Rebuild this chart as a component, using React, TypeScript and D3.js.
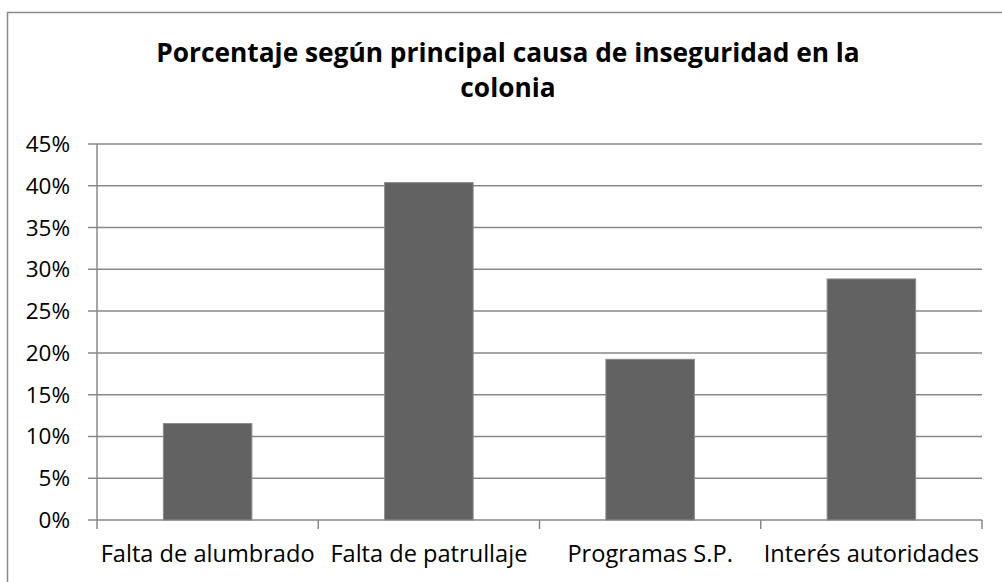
import React from "react";
import * as d3 from "d3";

const categories: string[] = [
  "Falta de alumbrado",
  "Falta de patrullaje",
  "Programas S.P.",
  "Interés autoridades",
];
const values: number[] = [0.1154, 0.4038, 0.1923, 0.2885];
const yTicks: number[] = [0, 0.05, 0.1, 0.15, 0.2, 0.25, 0.3, 0.35, 0.4, 0.45];
const titleLines: string[] = [
  "Porcentaje según principal causa de inseguridad en la",
  "colonia",
];

const W = 1002;
const H = 582;
const plot = { left: 97, right: 982, top: 144, bottom: 520 };
const FONT = "'Open Sans', Lato, sans-serif";
const GRID = "#888888";

export default function App() {
  const x = d3
    .scaleBand<string>()
    .domain(categories)
    .range([plot.left, plot.right])
    .paddingInner(0.6)
    .paddingOuter(0.3);
  const y = d3.scaleLinear().domain([0, 0.45]).range([plot.bottom, plot.top]);
  const fmt = d3.format(".0%");
  const step = x.step();
  const boundaries = d3.range(categories.length + 1).map((i) => plot.left + i * step);

  return (
    <svg
      width={W}
      height={H}
      style={{ position: "absolute", left: 0, top: 0, background: "#fff" }}
      fontFamily={FONT}
    >
      <rect x={0} y={0} width={W} height={H} fill="#fff" />
      <rect x={7.5} y={12.5} width={W + 20} height={H + 20} fill="none" stroke="#8a8a8a" strokeWidth={1.5} />
      {titleLines.map((t, i) => (
        <text
          key={i}
          x={508}
          y={62 + i * 34.5}
          textAnchor="middle"
          fontWeight="bold"
          fontSize={26.3}
          fill="#000"
        >
          {t}
        </text>
      ))}
      {yTicks.map((t) => (
        <g key={t}>
          <line x1={88} x2={plot.right} y1={y(t)} y2={y(t)} stroke={GRID} strokeWidth={1.5} />
          <text x={70} y={y(t) + 8} textAnchor="end" fontSize={22.5} fill="#000">
            {fmt(t)}
          </text>
        </g>
      ))}
      <line x1={plot.left} x2={plot.left} y1={plot.top} y2={plot.bottom} stroke={GRID} strokeWidth={1.5} />
      {boundaries.map((bx, i) => (
        <line key={i} x1={bx} x2={bx} y1={plot.bottom} y2={plot.bottom + 9} stroke={GRID} strokeWidth={1.5} />
      ))}
      {categories.map((c, i) => (
        <rect
          key={c}
          x={x(c)}
          y={y(values[i])}
          width={x.bandwidth()}
          height={y(0) - y(values[i])}
          fill="#626262"
          stroke="#8a8a8a"
          strokeWidth={1}
        />
      ))}
      {categories.map((c) => (
        <text
          key={c}
          x={(x(c) as number) + x.bandwidth() / 2}
          y={562}
          textAnchor="middle"
          fontSize={23.6}
          fill="#000"
        >
          {c}
        </text>
      ))}
    </svg>
  );
}
